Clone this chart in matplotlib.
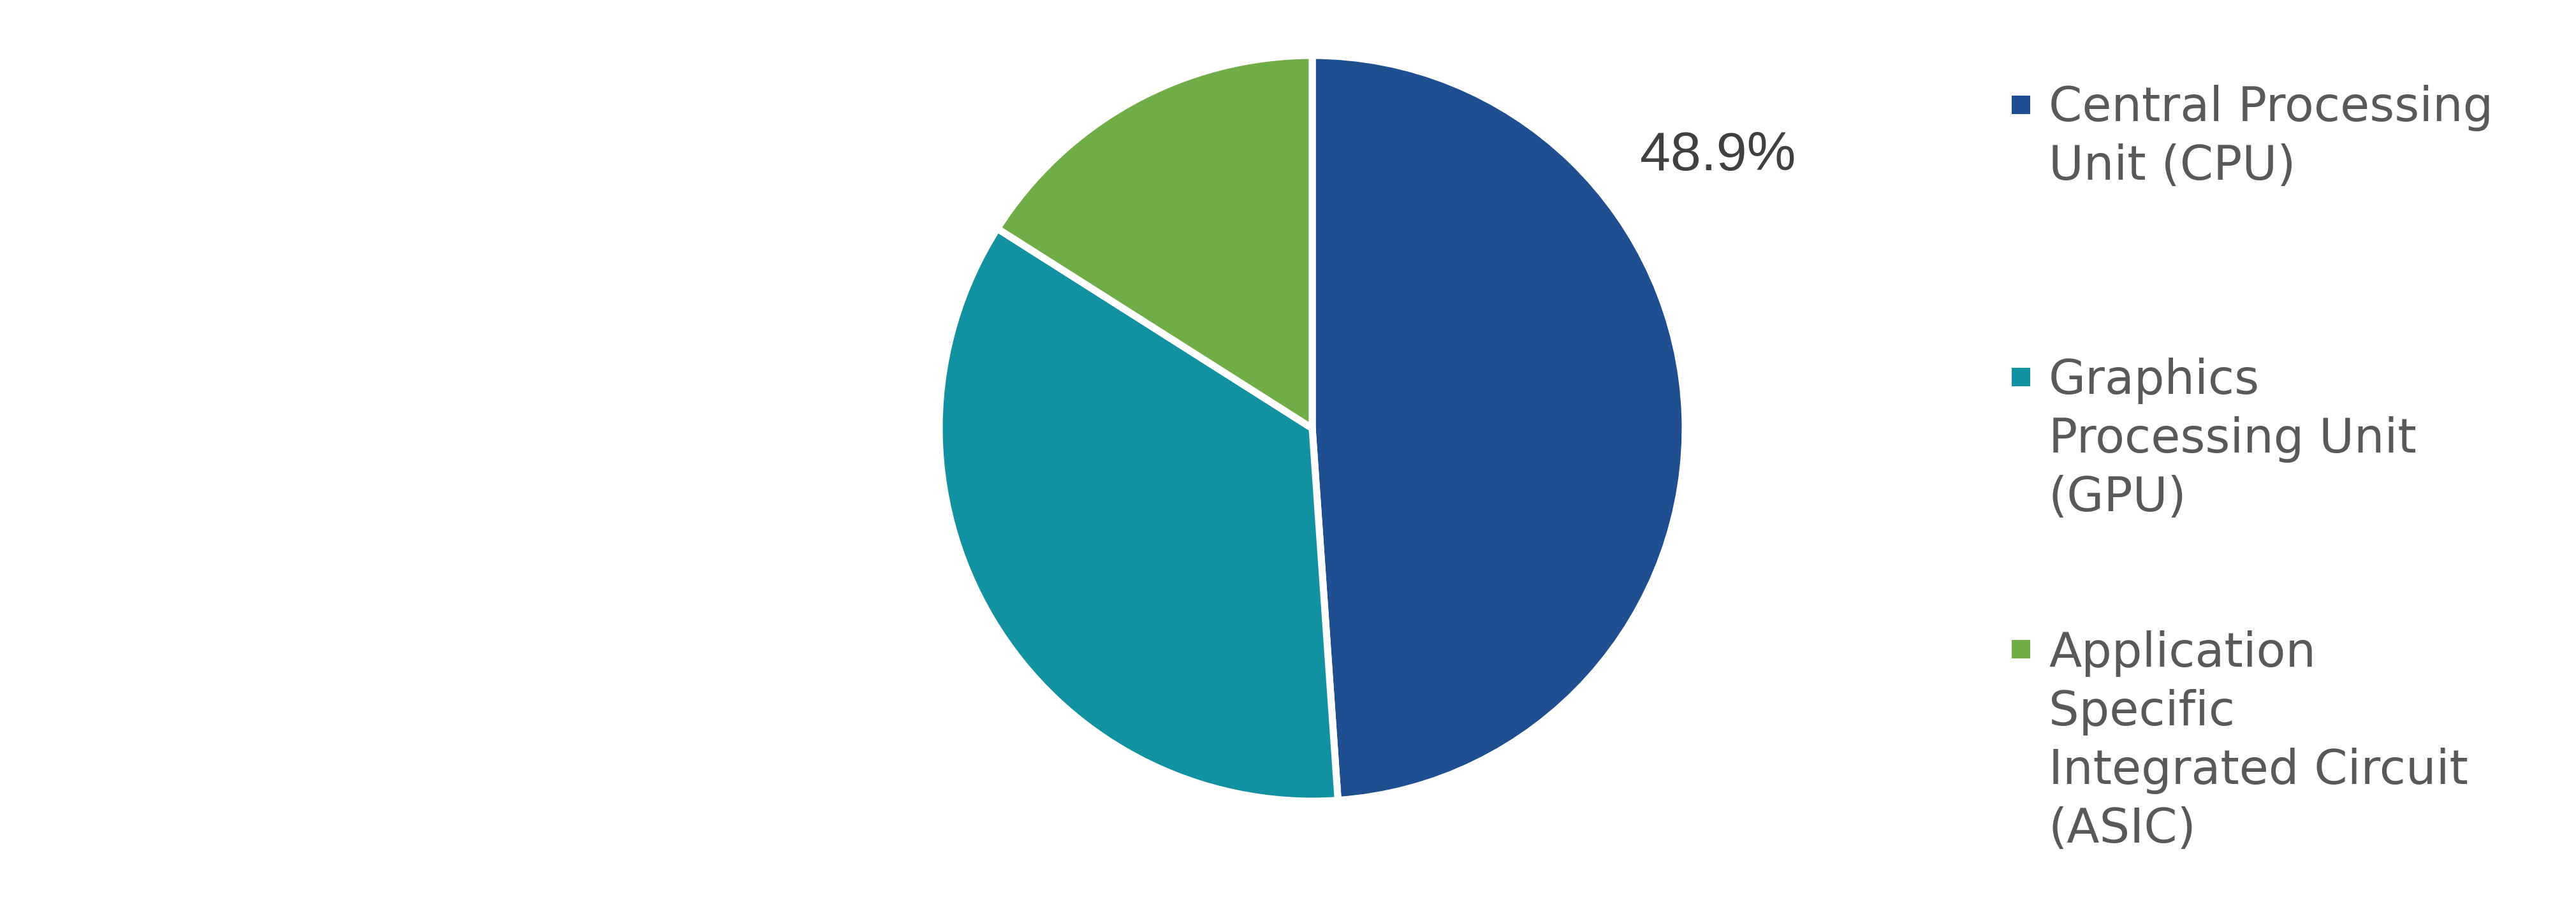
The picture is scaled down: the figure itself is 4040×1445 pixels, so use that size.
import matplotlib
matplotlib.use("Agg")
import matplotlib.pyplot as plt
from matplotlib.patches import Rectangle

# chart data
labels = ["Central Processing Unit (CPU)",
          "Graphics Processing Unit (GPU)",
          "Application Specific Integrated Circuit (ASIC)"]
legend_lines = [["Central Processing", "Unit (CPU)"],
                ["Graphics", "Processing Unit", "(GPU)"],
                ["Application", "Specific", "Integrated Circuit", "(ASIC)"]]
shares = [48.9, 35.1, 16.0]
colors = ["#1F4E91", "#1292A0", "#70AD47"]

W, H = 4041, 1445
fig = plt.figure(figsize=(W / 100, H / 100), dpi=100)

# pie axes: centre (2058, 672) px from top, radius ~585 px (white rim eats a few px)
cx, cy, r = 2058, 672, 585
ax = fig.add_axes([(cx - r) / W, (H - cy - r) / H, 2 * r / W, 2 * r / H])
ax.pie(shares, colors=colors, startangle=90, counterclock=False, radius=1,
       wedgeprops=dict(edgecolor="white", linewidth=8))
ax.set_xlim(-1, 1)
ax.set_ylim(-1, 1)
ax.set_aspect("equal")
ax.axis("off")

# only the CPU share is labelled
ax.text(1.087, 0.692, "%.1f%%" % shares[0], ha="center", va="baseline",
        fontsize=62, color="#404040", family="Liberation Sans", clip_on=False)

# legend drawn by hand
sq = 29
for i, lines in enumerate(legend_lines):
    base = 190 + i * 428
    mid = 164 + i * 427
    fig.add_artist(Rectangle(((3155) / W, (H - mid - sq / 2) / H), sq / W, sq / H,
                             transform=fig.transFigure, facecolor=colors[i],
                             edgecolor="none"))
    for k, line in enumerate(lines):
        fig.text(3213 / W, (H - base - k * 92) / H, line, ha="left", va="baseline",
                 fontsize=54, color="#595959", family="DejaVu Sans")

fig.savefig("out.png", dpi=100, facecolor="white")
